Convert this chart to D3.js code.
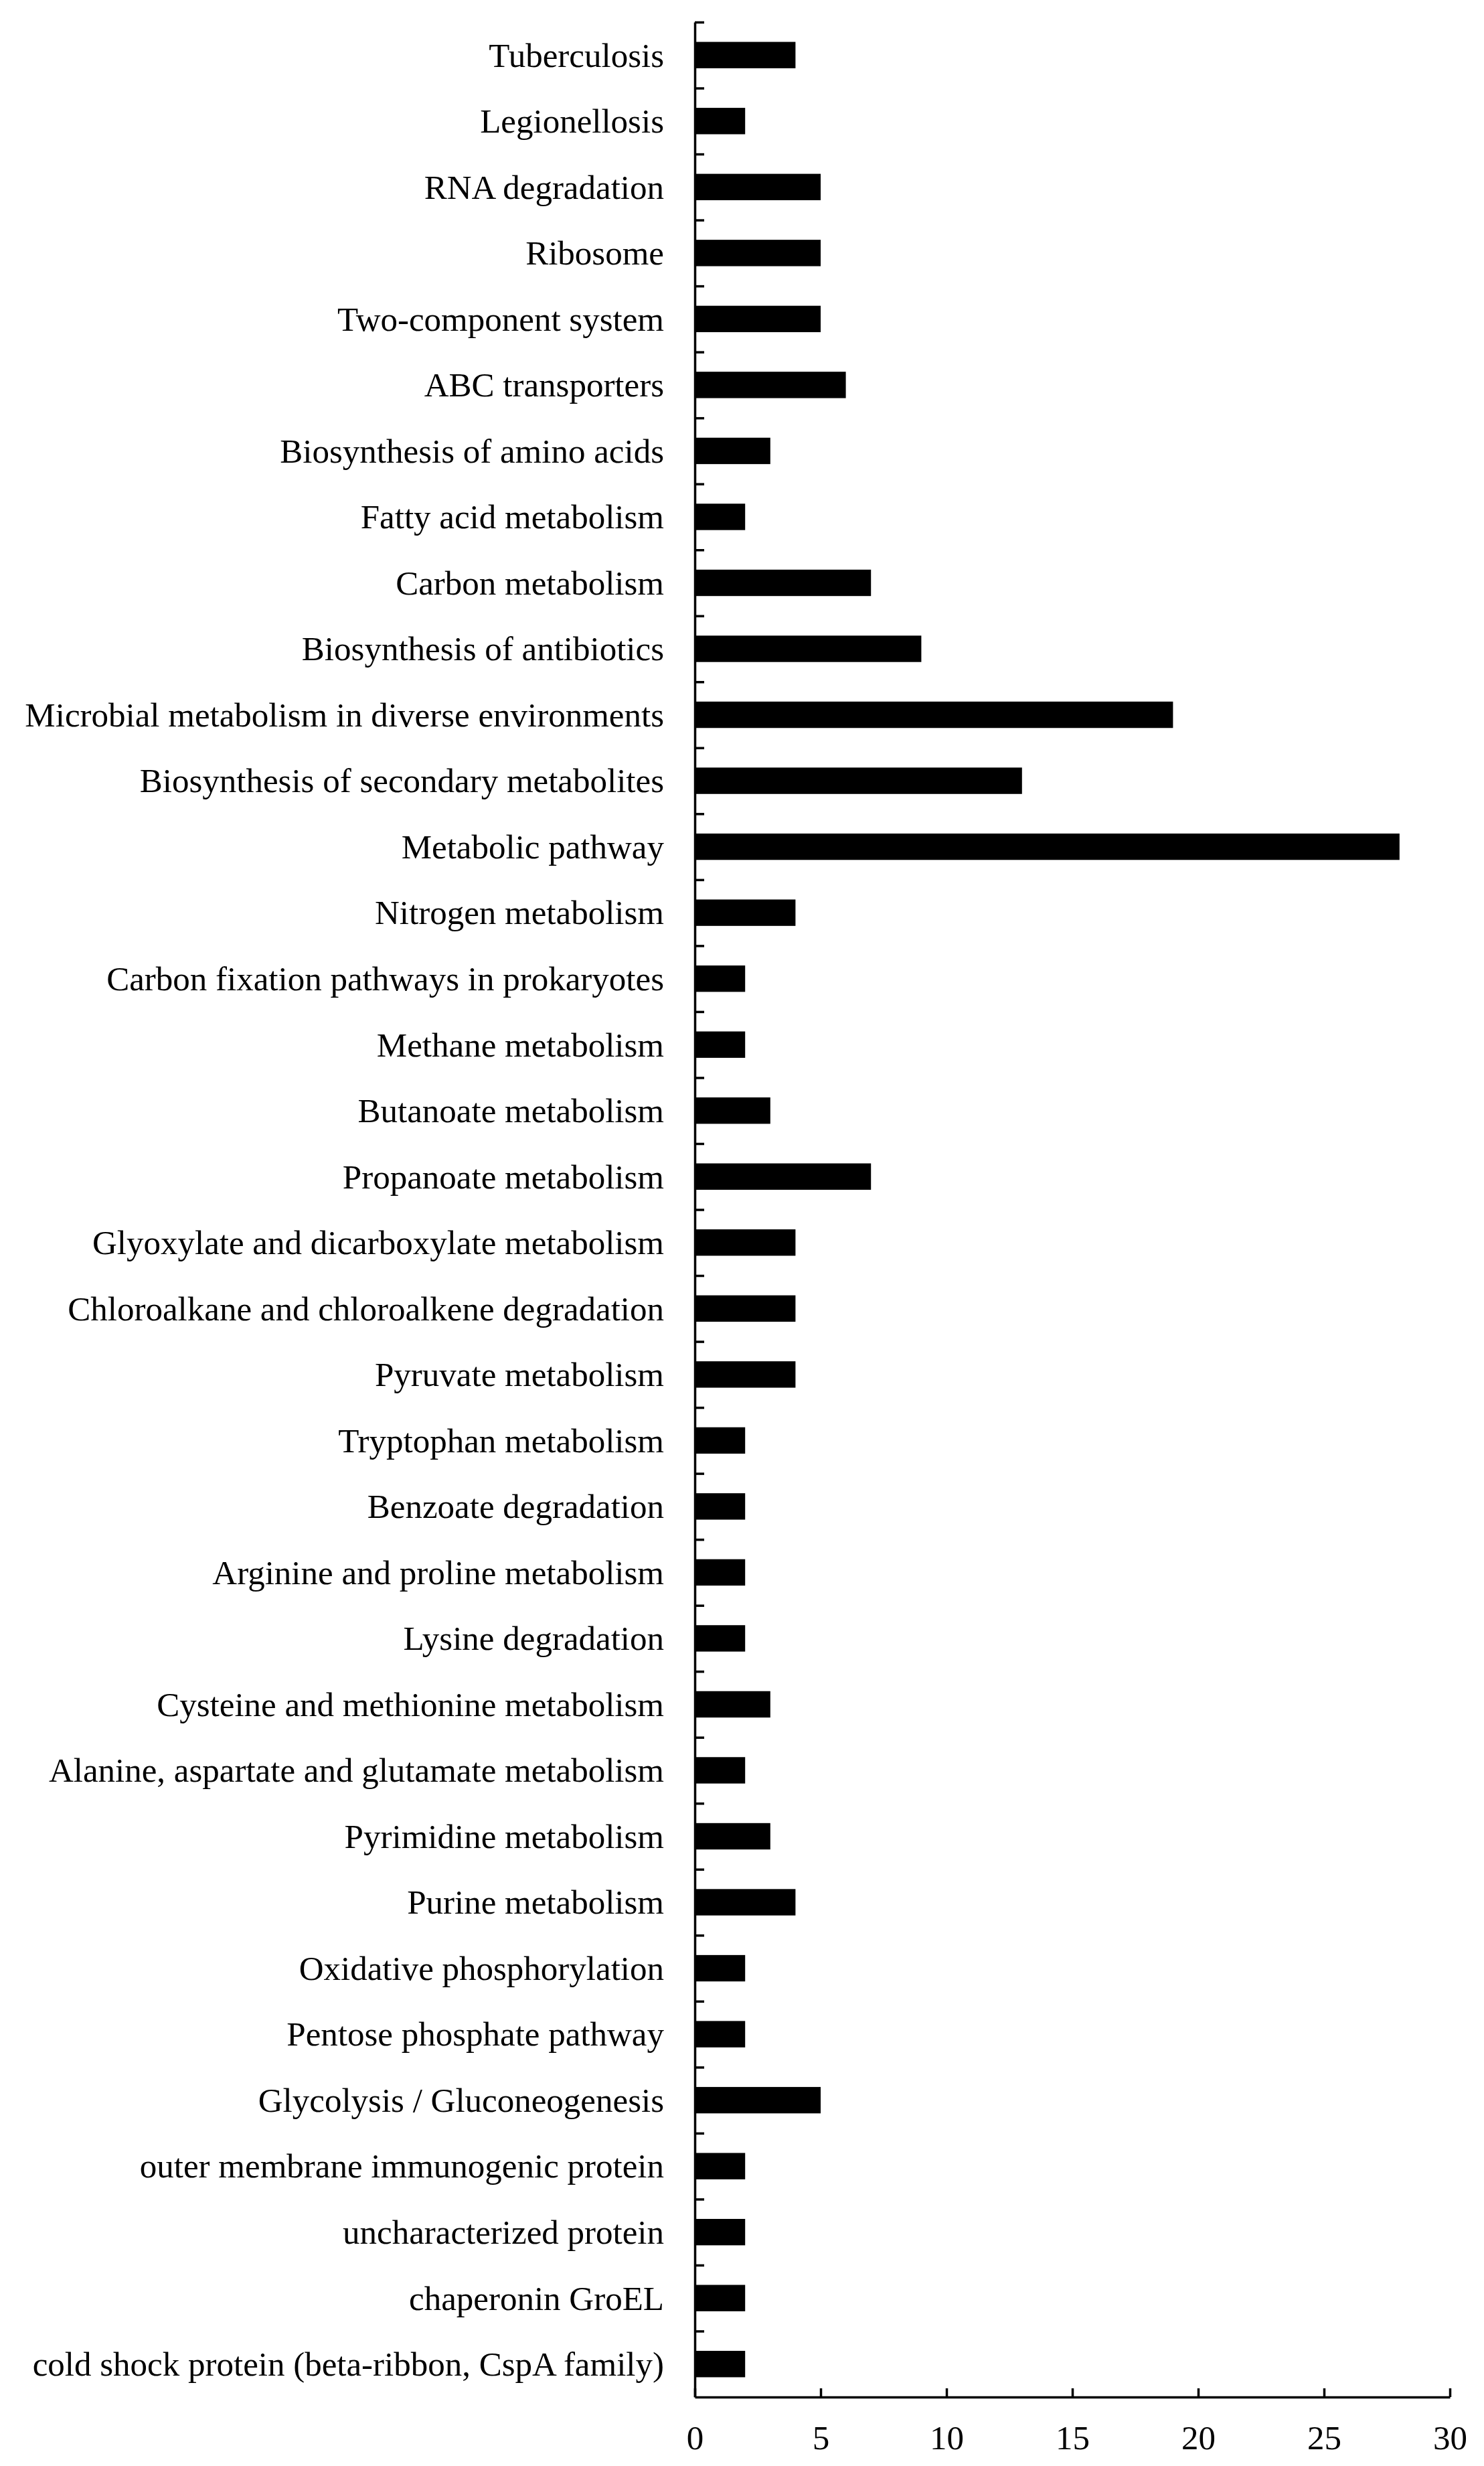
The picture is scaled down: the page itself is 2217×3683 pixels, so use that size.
<!DOCTYPE html>
<html>
<head>
<meta charset="utf-8">
<script src="https://cdn.jsdelivr.net/npm/d3@7"></script>
<style>
	body { margin: 0; background: #fff; }
	text { font-family: "Liberation Serif", "Times New Roman", serif; }
</style>
</head>
<body>
<div id="chart-area"></div>
<script>

// pathway names, top to bottom
let pathways = [
	"Tuberculosis",
	"Legionellosis",
	"RNA degradation",
	"Ribosome",
	"Two-component system",
	"ABC transporters",
	"Biosynthesis of amino acids",
	"Fatty acid metabolism",
	"Carbon metabolism",
	"Biosynthesis of antibiotics",
	"Microbial metabolism in diverse environments",
	"Biosynthesis of secondary metabolites",
	"Metabolic pathway",
	"Nitrogen metabolism",
	"Carbon fixation pathways in prokaryotes",
	"Methane metabolism",
	"Butanoate metabolism",
	"Propanoate metabolism",
	"Glyoxylate and dicarboxylate metabolism",
	"Chloroalkane and chloroalkene degradation",
	"Pyruvate metabolism",
	"Tryptophan metabolism",
	"Benzoate degradation",
	"Arginine and proline metabolism",
	"Lysine degradation",
	"Cysteine and methionine metabolism",
	"Alanine, aspartate and glutamate metabolism",
	"Pyrimidine metabolism",
	"Purine metabolism",
	"Oxidative phosphorylation",
	"Pentose phosphate pathway",
	"Glycolysis / Gluconeogenesis",
	"outer membrane immunogenic protein",
	"uncharacterized protein",
	"chaperonin GroEL",
	"cold shock protein (beta-ribbon, CspA family)"
];

// protein counts per pathway
let counts = [4, 2, 5, 5, 5, 6, 3, 2, 7, 9, 19, 13, 28, 4, 2, 2, 3, 7, 4, 4,
	4, 2, 2, 2, 2, 3, 2, 3, 4, 2, 2, 5, 2, 2, 2, 2];

let xTicks = [0, 5, 10, 15, 20, 25, 30];

let data = pathways.map((p, i) => ({name: p, count: counts[i]}));

let margin = {top: 33, right: 51, bottom: 103, left: 1038};

let width = 2217 - margin.left - margin.right;
let height = 3683 - margin.top - margin.bottom;

let svg = d3.select("#chart-area").append("svg")
		.attr("width", width + margin.left + margin.right)
		.attr("height", height + margin.top + margin.bottom)
		.style("background", "#fff")
	.append("g")
		.attr("transform", "translate(" + margin.left + "," + margin.top + ")");

// scales
let x = d3.scaleLinear()
	.domain([0, 30])
	.range([0, width]);

let y = d3.scaleBand()
	.domain(pathways)
	.range([0, height])
	.paddingInner(0.6)
	.paddingOuter(0.3);

// band edges for the category ticks
let yEdge = d3.scaleLinear()
	.domain([0, pathways.length])
	.range([0, height]);

// bars
svg.selectAll(".bar")
	.data(data)
	.enter().append("rect")
	.attr("class", "bar")
	.attr("x", 0)
	.attr("y", d => y(d.name))
	.attr("width", d => x(d.count))
	.attr("height", y.bandwidth())
	.attr("fill", "black");

// category labels
let yLabels = svg.append("g")
	.attr("class", "y-labels")
	.call(d3.axisLeft(y).tickSize(0).tickPadding(46));
yLabels.select(".domain").remove();
yLabels.selectAll("text")
	.attr("dy", "0.34em")
	.style("font-size", "51px")
	.attr("fill", "black");

// y axis line with ticks at band edges
let yAxisGroup = svg.append("g")
	.attr("class", "y-axis axis")
	.call(d3.axisRight(yEdge)
		.tickValues(d3.range(pathways.length))
		.tickSize(14)
		.tickSizeOuter(0)
		.tickFormat(""));

// x axis, ticks pointing up
let xAxisGroup = svg.append("g")
	.attr("class", "x-axis axis")
	.attr("transform", "translate(0," + height + ")")
	.call(d3.axisBottom(x)
		.tickValues(xTicks)
		.tickSize(-13)
		.tickSizeOuter(0)
		.tickPadding(42));
xAxisGroup.selectAll("text")
	.style("font-size", "51px")
	.attr("fill", "black");

svg.selectAll(".axis path, .axis line")
	.attr("stroke", "black")
	.attr("stroke-width", 3.5);

</script>
</body>
</html>
